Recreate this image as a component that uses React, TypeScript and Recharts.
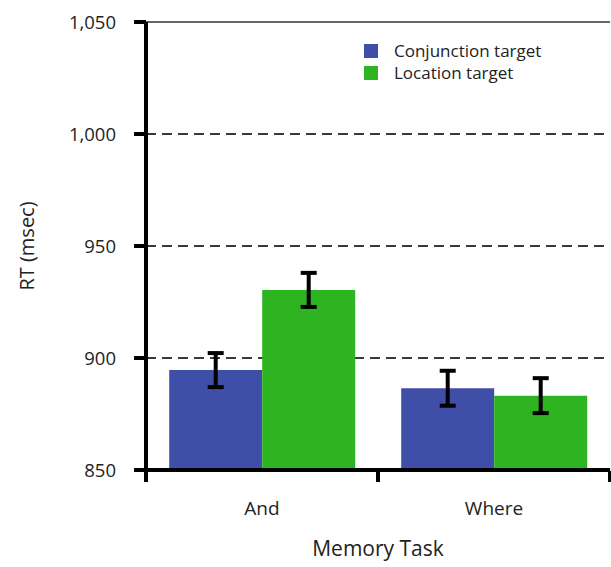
import {
  Bar,
  BarChart,
  CartesianGrid,
  ErrorBar,
  Label,
  Legend,
  ReferenceLine,
  XAxis,
  YAxis,
} from "recharts";

const FONT = "'Open Sans', 'Noto Sans', sans-serif";

const TASKS = ["And", "Where"];
const CONJUNCTION_RT = [894.6, 886.5];
const CONJUNCTION_ERR = [7.6, 7.8];
const LOCATION_RT = [930.4, 883.2];
const LOCATION_ERR = [7.6, 7.8];
const Y_TICKS = [850, 900, 950, 1000, 1050];
const EDGE_TICKS = [0, 1, 2];

const SERIES = [
  { key: "conjunction", errKey: "conjunctionErr", name: "Conjunction target", color: "#3f4fa7" },
  { key: "location", errKey: "locationErr", name: "Location target", color: "#2eb420" },
];

const data = TASKS.map((task, i) => ({
  task,
  slot: i + 0.5,
  conjunction: CONJUNCTION_RT[i],
  conjunctionErr: CONJUNCTION_ERR[i],
  location: LOCATION_RT[i],
  locationErr: LOCATION_ERR[i],
}));

const formatThousands = (v: number) =>
  String(v).replace(/\B(?=(\d{3})+(?!\d))/g, ",");

function ChartLegend() {
  return (
    <div style={{ fontFamily: FONT, fontSize: 17, color: "#222", lineHeight: "22px" }}>
      {SERIES.map((s) => (
        <div key={s.key} style={{ display: "flex", alignItems: "center" }}>
          <span
            style={{
              display: "inline-block",
              width: 14,
              height: 14,
              background: s.color,
              marginRight: 16,
            }}
          />
          <span>{s.name}</span>
        </div>
      ))}
    </div>
  );
}

export default function App() {
  return (
    <div style={{ position: "absolute", left: 0, top: 0, background: "#fff" }}>
      <BarChart
        width={611}
        height={567}
        data={data}
        margin={{ top: 22, right: 1, bottom: 0, left: 0 }}
        barCategoryGap="10%"
        barGap={0}
      >
        <CartesianGrid
          vertical={false}
          stroke="#3a3a3a"
          strokeWidth={2}
          strokeDasharray="10 6"
        />
        <ReferenceLine y={1050} stroke="#666" strokeWidth={2} />
        <XAxis
          xAxisId="edge"
          dataKey="slot"
          type="number"
          domain={[0, 2]}
          ticks={EDGE_TICKS}
          height={96}
          axisLine={false}
          tickFormatter={() => ""}
          tick={{ fill: "transparent" }}
          tickLine={{ stroke: "#000", strokeWidth: 4 }}
          tickSize={11}
        />
        <XAxis
          dataKey="task"
          height={1}
          axisLine={{ stroke: "#000", strokeWidth: 4 }}
          tickLine={false}
          tickSize={0}
          tickMargin={32}
          tick={{ fill: "#222", fontSize: 19, fontFamily: FONT }}
        >
          <Label
            content={({ viewBox }: any) => (
              <text
                x={viewBox.x + viewBox.width / 2}
                y={556}
                textAnchor="middle"
                fill="#222"
                fontSize={21}
                fontFamily={FONT}
              >
                Memory Task
              </text>
            )}
          />
        </XAxis>
        <YAxis
          width={146}
          domain={[850, 1050]}
          ticks={Y_TICKS}
          allowDataOverflow
          tickFormatter={formatThousands}
          axisLine={{ stroke: "#000", strokeWidth: 4 }}
          tickLine={{ stroke: "#000", strokeWidth: 4 }}
          tickSize={12}
          tickMargin={18}
          tick={{ fill: "#222", fontSize: 18.5, fontFamily: FONT }}
        >
          <Label
            content={({ viewBox }: any) => {
              const cy = viewBox.y + viewBox.height / 2;
              return (
                <text
                  x={34}
                  y={cy}
                  transform={`rotate(-90, 34, ${cy})`}
                  textAnchor="middle"
                  fill="#222"
                  fontSize={20}
                  fontFamily={FONT}
                >
                  RT (msec)
                </text>
              );
            }}
          />
        </YAxis>
        <Legend
          layout="vertical"
          align="center"
          verticalAlign="middle"
          wrapperStyle={{ left: 364, top: 40, width: "auto" }}
          content={() => <ChartLegend />}
        />
        {SERIES.map((s) => (
          <Bar
            key={s.key}
            dataKey={s.key}
            name={s.name}
            fill={s.color}
            isAnimationActive={false}
          >
            <ErrorBar
              dataKey={s.errKey}
              width={8}
              stroke="#000"
              strokeWidth={4}
              direction="y"
              isAnimationActive={false}
            />
          </Bar>
        ))}
      </BarChart>
    </div>
  );
}
